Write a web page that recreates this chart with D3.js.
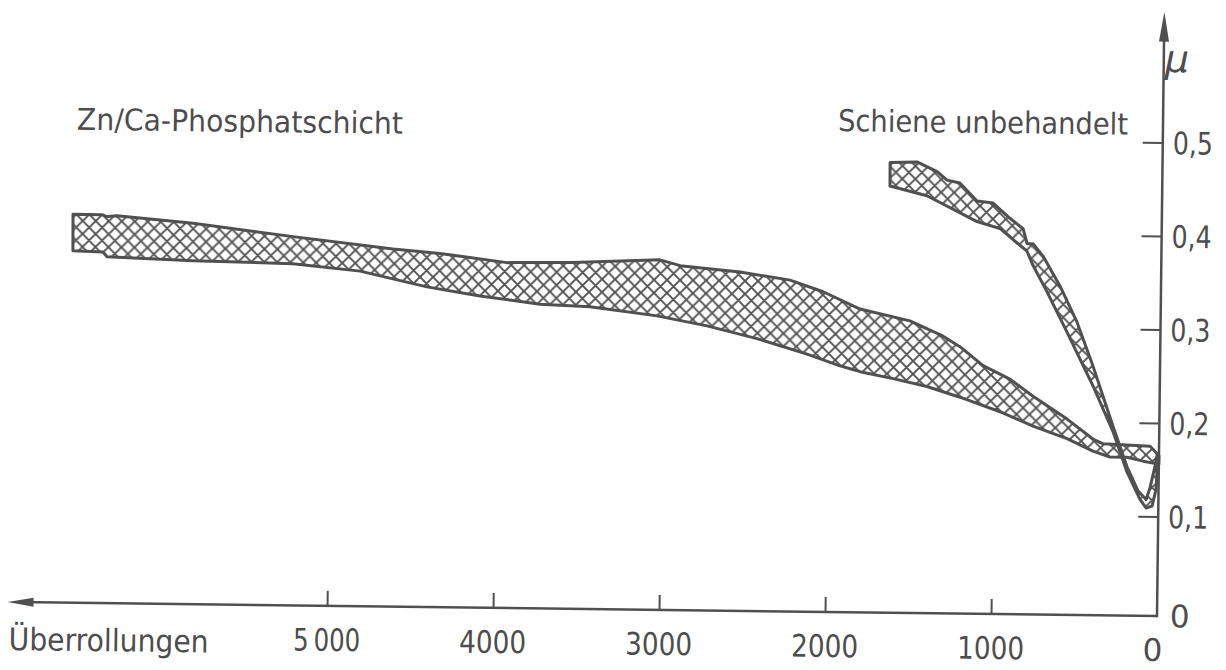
<!DOCTYPE html>
<html>
<head>
<meta charset="utf-8">
<script src="https://cdn.jsdelivr.net/npm/d3@7"></script>
<style>
  html, body { margin: 0; padding: 0; background: #ffffff; }
  svg { display: block; }
  text { font-family: "DejaVu Sans", sans-serif; fill: #4d4d4d; }
</style>
</head>
<body>
<script>
// ---------- data (x = Überrollungen, y = μ) ----------
const xTickValues = [5000, 4000, 3000, 2000, 1000, 0];
const xTickLabels = ["5\u2009000", "4000", "3000", "2000", "1000", "0"];
const yTickValues = [0.1, 0.2, 0.3, 0.4, 0.5];
const yTickLabels = ["0,1", "0,2", "0,3", "0,4", "0,5"];

// Zn/Ca-Phosphatschicht band
const znUpperN  = [6559, 6384, 6354, 6294, 5835, 5232, 4629, 4345, 3942, 3544, 3020, 2898, 2537, 2235, 2035, 1811, 1510, 1309, 1207, 1066, 903, 763, 556, 399, 337, 54, 0];
const znUpperMu = [0.409, 0.409, 0.407, 0.408, 0.401, 0.388, 0.376, 0.372, 0.363, 0.364, 0.368, 0.362, 0.356, 0.348, 0.336, 0.318, 0.306, 0.290, 0.279, 0.259, 0.245, 0.227, 0.203, 0.182, 0.177, 0.175, 0.165];
const znLowerN  = [6557, 6376, 6351, 5833, 5231, 4826, 4422, 4102, 3740, 3439, 3034, 2732, 2430, 2127, 1928, 1807, 1607, 1403, 1203, 961, 761, 555, 398, 295, 193, 95, 0];
const znLowerMu = [0.370, 0.369, 0.364, 0.361, 0.359, 0.352, 0.336, 0.327, 0.319, 0.317, 0.308, 0.298, 0.285, 0.269, 0.257, 0.251, 0.244, 0.236, 0.225, 0.210, 0.195, 0.182, 0.169, 0.163, 0.163, 0.159, 0.156];

// Schiene unbehandelt band
const schUpperN  = [1641, 1479, 1357, 1297, 1219, 1115, 1018, 915, 835, 810, 774, 713, 608, 504, 404, 279, 192, 123, 74, 51, 24, 10];
const schUpperMu = [0.475, 0.476, 0.466, 0.457, 0.454, 0.435, 0.433, 0.417, 0.406, 0.390, 0.390, 0.377, 0.345, 0.307, 0.260, 0.196, 0.153, 0.127, 0.118, 0.131, 0.153, 0.167];
const schLowerN  = [1640, 1417, 1113, 975, 810, 773, 687, 563, 403, 278, 191, 111, 74, 38, 15, 10];
const schLowerMu = [0.450, 0.440, 0.413, 0.406, 0.382, 0.367, 0.339, 0.296, 0.239, 0.190, 0.147, 0.118, 0.109, 0.111, 0.129, 0.151];

// ---------- layout ----------
const W = 1226, H = 670;
const ink = "#505050";
const x = d3.scaleLinear().domain([0, 5000]).range([1157, 327]);
const y = d3.scaleLinear().domain([0, 0.5]).range([610, 142.5]);
const axisY = y(0) + 6;
const xAxisEndN = 6925;
const yAxisTopMu = 0.64;

const svg = d3.select("body").append("svg").attr("width", W).attr("height", H);
svg.append("rect").attr("width", W).attr("height", H).attr("fill", "#ffffff");

const T = 13;
const pat = svg.append("defs").append("pattern")
  .attr("id", "hatch").attr("patternUnits", "userSpaceOnUse")
  .attr("width", T).attr("height", T);
pat.append("rect").attr("width", T).attr("height", T).attr("fill", "#ffffff");
pat.append("path").attr("d", `M0,0L${T},${T}M${T},0L0,${T}M-1,${T-1}L1,${T+1}M${T-1},-1L${T+1},1M-1,1L1,-1M${T-1},${T+1}L${T+1},${T-1}`)
  .attr("stroke", ink).attr("stroke-width", 1.9).attr("fill", "none");

// slight scan rotation of the whole drawing
const g = svg.append("g").attr("transform", `rotate(0.7, ${x(0)}, ${axisY})`);

const line = d3.line().x(d => x(d[0])).y(d => y(d[1]));
function band(uN, uMu, lN, lMu) {
  const top = uN.map((n, i) => [n, uMu[i]]);
  const bot = lN.map((n, i) => [n, lMu[i]]).reverse();
  return line(top.concat(bot)) + "Z";
}

g.append("path").attr("d", band(znUpperN, znUpperMu, znLowerN, znLowerMu))
  .attr("fill", "url(#hatch)").attr("stroke", ink).attr("stroke-width", 3)
  .attr("stroke-linejoin", "round");
g.append("path").attr("d", band(schUpperN, schUpperMu, schLowerN, schLowerMu))
  .attr("fill", "url(#hatch)").attr("stroke", ink).attr("stroke-width", 3)
  .attr("stroke-linejoin", "round");

// ---------- axes ----------
const xLeft = x(xAxisEndN);
g.append("line").attr("x1", x(0)).attr("y1", axisY).attr("x2", xLeft + 10).attr("y2", axisY)
  .attr("stroke", ink).attr("stroke-width", 2.5);
g.append("path").attr("d", `M${xLeft},${axisY}L${xLeft + 26},${axisY - 4.5}L${xLeft + 26},${axisY + 4.5}Z`)
  .attr("fill", ink);

const yTop = y(yAxisTopMu);
g.append("line").attr("x1", x(0)).attr("y1", axisY + 1.2).attr("x2", x(0)).attr("y2", yTop + 10)
  .attr("stroke", ink).attr("stroke-width", 2.5);
g.append("path").attr("d", `M${x(0)},${yTop}L${x(0) - 5},${yTop + 30}L${x(0) + 5},${yTop + 30}Z`)
  .attr("fill", ink);

const xAxis = d3.axisTop(x).tickValues(xTickValues.filter(v => v > 0)).tickSize(15).tickFormat("");
g.append("g").attr("transform", `translate(0,${axisY})`).call(xAxis)
  .call(s => s.select(".domain").remove())
  .call(s => s.selectAll("line").attr("stroke", ink).attr("stroke-width", 2));

const yAxis = d3.axisLeft(y).tickValues(yTickValues).tickSize(20).tickFormat("");
g.append("g").attr("transform", `translate(${x(0)},0)`).call(yAxis)
  .call(s => s.select(".domain").remove())
  .call(s => s.selectAll("line").attr("stroke", ink).attr("stroke-width", 2));

// ---------- labels ----------
g.selectAll("text.xt").data(xTickValues).join("text").attr("class", "xt")
  .attr("x", d => x(d) - (d === 0 ? 4 : 0)).attr("y", 661)
  .attr("text-anchor", "middle").attr("font-size", 31)
  .each(function (d, i) {
    const t = d3.select(this).text(xTickLabels[i]);
    if (d !== 0) t.attr("textLength", 67).attr("lengthAdjust", "spacingAndGlyphs");
  });

g.selectAll("text.yt").data(yTickValues).join("text").attr("class", "yt")
  .attr("x", x(0) + 10).attr("y", d => y(d) + 11.5)
  .attr("font-size", 31).attr("textLength", 40).attr("lengthAdjust", "spacingAndGlyphs")
  .text((d, i) => yTickLabels[i]);

g.append("text").attr("x", x(0) + 13).attr("y", axisY + 11).attr("font-size", 31).text("0");

g.append("text").attr("x", x(0) + 1).attr("y", 72).attr("font-size", 38)
  .attr("font-style", "italic").text("μ");

g.append("text").attr("x", 9).attr("y", 664).attr("font-size", 31)
  .attr("textLength", 200).attr("lengthAdjust", "spacingAndGlyphs").text("Überrollungen");

g.append("text").attr("x", 71).attr("y", 143).attr("font-size", 30)
  .attr("textLength", 326).attr("lengthAdjust", "spacingAndGlyphs").text("Zn/Ca-Phosphatschicht");

g.append("text").attr("x", 832).attr("y", 135).attr("font-size", 30)
  .attr("textLength", 290).attr("lengthAdjust", "spacingAndGlyphs").text("Schiene unbehandelt");
</script>
</body>
</html>
